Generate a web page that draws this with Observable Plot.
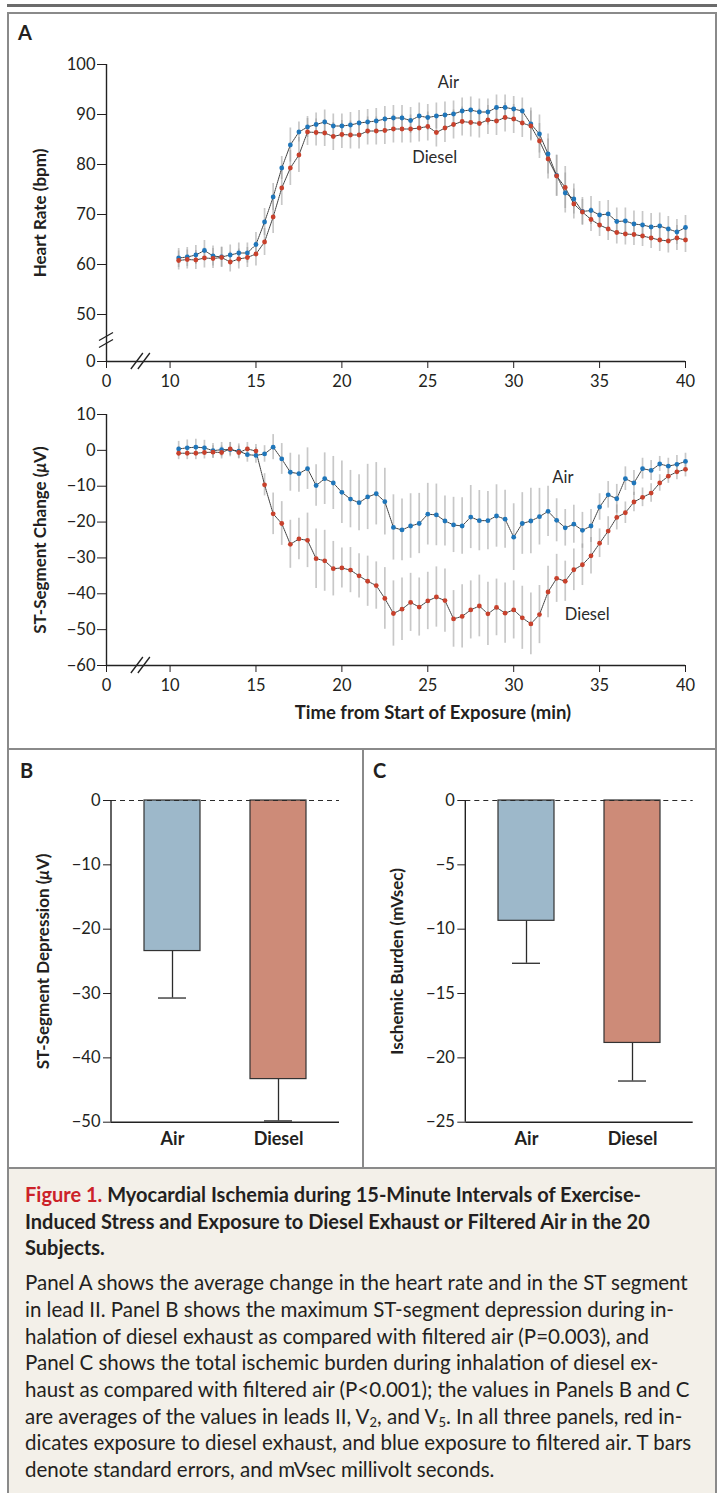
<!DOCTYPE html>
<html><head><meta charset="utf-8">
<script src="https://cdn.jsdelivr.net/npm/d3@7"></script>
<script src="https://cdn.jsdelivr.net/npm/@observablehq/plot@0.6"></script>
<style>
body{margin:0;background:#fff;}
#page{position:relative;width:720px;height:1493px;overflow:hidden;font-family:Lato,"Open Sans",sans-serif;color:#231f20;background:#fff;}
.abs{position:absolute;box-sizing:border-box;}
.letter{font-weight:700;line-height:1;font-size:20px;}
.head{font-weight:700;font-size:20px;line-height:26.7px;white-space:nowrap;}
.body{font-size:20.5px;line-height:26.7px;white-space:nowrap;margin-top:8px;}
.sub{font-size:13px;vertical-align:-3px;line-height:0;}
svg{display:block;}
</style></head><body>
<div id="page">
  <div class="abs" style="left:7px;top:4px;width:710px;height:3px;background:#6b6b6b"></div>
  <div class="abs" style="left:7px;top:12px;width:710px;height:738px;border:2px solid #8a8a8a"></div>
  <div class="abs" style="left:7px;top:748px;width:710px;height:421px;border:2px solid #8a8a8a"></div>
  <div class="abs" style="left:362px;top:748px;width:2px;height:421px;background:#8a8a8a"></div>
  <div class="abs" style="left:7px;top:1167px;width:710px;height:340px;border:2px solid #8a8a8a;background:#f3f0e9"></div>
  <div class="abs letter" style="left:18px;top:22px">A</div>
  <div class="abs letter" style="left:20px;top:760px">B</div>
  <div class="abs letter" style="left:373px;top:760px">C</div>
  <div id="a1" class="abs" style="left:0;top:40px"></div>
  <div id="a2" class="abs" style="left:0;top:395px"></div>
  <div id="b" class="abs" style="left:0;top:780px"></div>
  <div id="c" class="abs" style="left:363px;top:780px"></div>
  <div class="abs" style="left:25px;top:1181px;width:690px">
    <div class="head"><span style="color:#cc2229">Figure 1.</span> Myocardial Ischemia during 15-Minute Intervals of Exercise-<br>Induced Stress and Exposure to Diesel Exhaust or Filtered Air in the 20<br>Subjects.</div>
    <div class="body">Panel A shows the average change in the heart rate and in the ST segment<br>in lead II. Panel B shows the maximum ST-segment depression during in-<br>halation of diesel exhaust as compared with filtered air (P=0.003), and<br>Panel C shows the total ischemic burden during inhalation of diesel ex-<br>haust as compared with filtered air (P&lt;0.001); the values in Panels B and C<br>are averages of the values in leads II, V<span class="sub">2</span>, and V<span class="sub">5</span>. In all three panels, red in-<br>dicates exposure to diesel exhaust, and blue exposure to filtered air. T bars<br>denote standard errors, and mVsec millivolt seconds.</div>
  </div>
</div>
<script>
// ---------- data ----------
const times = [10.5,11,11.5,12,12.5,13,13.5,14,14.5,15,
  15.5,16,16.5,17,17.5,18,18.5,19,19.5,20,
  20.5,21,21.5,22,22.5,23,23.5,24,24.5,25,
  25.5,26,26.5,27,27.5,28,28.5,29,29.5,30,
  30.5,31,31.5,32,32.5,33,33.5,34,34.5,35,
  35.5,36,36.5,37,37.5,38,38.5,39,39.5,40];

const hrAir = [61.3,61.5,61.9,62.8,61.7,61.5,61.9,62.3,62.3,64.0,
  68.5,73.5,79.3,83.9,86.5,87.5,88.0,88.5,87.7,87.7,
  87.9,88.3,88.5,88.7,89.1,89.3,89.3,88.8,89.7,89.4,
  89.7,89.9,90.1,90.7,90.9,90.5,90.5,91.4,91.4,91.1,
  90.7,88.1,86.1,82.1,77.8,74.3,73.1,70.6,70.8,69.9,
  70.1,68.6,68.7,68.1,67.9,67.5,67.7,67.1,66.5,67.4];
const hrDiesel = [60.8,61.0,60.9,61.3,61.2,61.4,60.5,61.1,61.4,62.1,
  64.5,69.5,75.3,79.3,81.9,86.5,86.4,86.3,85.6,86.0,
  85.9,85.9,86.7,86.7,86.8,87.1,87.1,87.1,87.3,87.6,
  86.4,87.3,88.0,88.6,88.4,88.2,88.9,88.7,89.4,89.1,
  88.3,87.7,84.7,81.1,77.7,75.4,72.1,70.5,69.0,67.9,
  67.1,66.4,66.1,66.0,65.7,65.3,64.9,64.7,65.3,64.9];
const hrAirSE = [1.9,1.9,1.9,2.0,2.0,2.0,2.0,2.0,2.0,2.4,
  2.7,2.7,2.3,3.4,2.0,2.1,2.3,2.4,2.4,2.4,
  2.5,2.5,2.5,2.5,2.5,2.5,2.5,2.6,2.6,2.6,
  2.6,2.6,2.6,2.6,2.6,2.6,2.6,2.5,2.5,2.5,
  2.6,3.2,3.8,4.0,4.1,4.0,3.0,2.8,2.8,2.7,
  2.7,2.7,2.6,2.6,2.7,2.7,2.6,2.5,2.5,2.4];
const hrDieselSE = [1.9,1.9,1.9,2.0,2.0,2.0,2.0,2.0,2.0,2.4,
  2.7,3.3,3.5,3.5,3.5,2.7,2.7,2.7,2.8,2.8,
  2.8,2.8,2.8,2.8,2.8,2.8,2.8,2.8,2.8,2.9,
  2.9,2.9,2.9,2.9,2.9,2.9,2.9,2.9,2.9,2.9,
  2.9,3.0,3.5,4.0,4.1,4.2,3.0,2.5,2.4,2.3,
  2.3,2.3,2.2,2.2,2.1,2.1,2.3,2.4,2.5,2.5];

const stAir = [0.4,0.7,0.9,0.7,-0.1,0.2,0.2,-0.2,-1.2,-1.4,
  -1.0,0.9,-2.4,-6.1,-6.5,-5.1,-9.8,-7.9,-9.1,-11.7,
  -13.6,-14.6,-13.0,-12.1,-14.3,-21.5,-22.2,-21.1,-20.4,-17.8,
  -18.0,-19.7,-20.8,-21.1,-18.6,-19.6,-19.6,-18.3,-19.2,-24.2,
  -20.4,-19.7,-18.5,-17.0,-19.5,-21.6,-20.6,-22.3,-21.1,-15.8,
  -12.4,-13.5,-7.9,-9.1,-5.1,-5.6,-3.8,-4.4,-3.9,-3.1];
const stDiesel = [-0.8,-0.8,-0.8,-0.6,-0.5,-0.6,0.4,-0.6,0.4,-0.2,
  -9.6,-17.7,-20.4,-26.2,-24.7,-25.1,-30.2,-30.8,-33.0,-32.8,
  -33.4,-35.0,-36.5,-37.7,-41.3,-45.5,-44.3,-42.4,-43.7,-42.0,
  -40.9,-41.9,-47.0,-46.3,-44.5,-43.4,-45.6,-43.8,-45.4,-44.5,
  -46.7,-48.4,-45.8,-39.5,-35.7,-36.5,-33.3,-31.9,-29.4,-25.9,
  -22.5,-18.7,-17.4,-14.4,-13.1,-11.9,-9.1,-7.2,-6.0,-5.3];
const stAirSE = [2.1,2.2,2.2,2.1,2.0,2.0,2.0,2.0,2.1,2.2,
  2.3,3.5,4.3,5.3,5.2,5.8,5.8,7.2,7.4,8.7,
  8.0,7.8,9.1,8.7,9.3,9.1,8.6,9.0,8.4,8.6,
  8.6,7.0,7.7,7.9,8.8,8.4,8.1,8.7,8.1,9.3,
  8.6,9.1,7.9,7.0,6.0,5.1,5.3,5.0,4.6,3.7,
  3.7,4.0,3.3,3.5,2.9,2.8,2.1,2.2,2.5,2.3];
const stDieselSE = [1.8,1.8,1.8,1.8,1.8,1.8,1.8,1.8,1.8,1.8,
  3.1,5.8,6.1,6.7,5.8,7.6,8.3,8.5,7.6,5.6,
  6.3,6.2,7.0,6.6,8.6,9.1,8.7,8.1,8.1,8.0,
  8.4,8.8,7.9,8.8,8.1,8.6,8.8,7.9,8.4,8.1,
  8.8,8.6,8.1,7.2,6.7,5.6,5.8,5.8,5.1,4.0,
  4.0,3.5,3.0,2.7,2.6,2.6,2.3,2.0,2.2,2.1];

const groups = ["Air", "Diesel"];
const stDepression = [-23.4, -43.3];
const stDepressionSE = [7.3, 6.5];
const ischemicBurden = [-9.35, -18.84];
const ischemicBurdenSE = [3.3, 2.96];

// broken axes: the "0" origin tick sits on a compressed stretch of each axis
const xOriginAt = 6.3;       // where the x "0" tick is drawn (axis broken between 0 and 10)
const xBreakAt = 8.3;        // position of the x break slashes
const hrOriginAt = 40.6;     // where the heart-rate "0" tick is drawn (axis broken between 0 and 50)
const hrBreakAt = 44.8;      // position of the y break slashes
const xTicks = [xOriginAt,10,15,20,25,30,35,40];
const hrTicks = [hrOriginAt,50,60,70,80,90,100];
const stTicks = [10,0,-10,-20,-30,-40,-50,-60];
const bTicks = [0,-10,-20,-30,-40,-50];
const cTicks = [0,-5,-10,-15,-20,-25];

const hrLabels = [{t:26.2, v:96.4, text:"Air"}, {t:25.4, v:81.3, text:"Diesel"}];
const stLabels = [{t:32.86, v:-7.6, text:"Air"}, {t:34.28, v:-45.8, text:"Diesel"}];

// ---------- helpers ----------
const NS = "http://www.w3.org/2000/svg";
const blue = "#1f76ba", red = "#c8412c";
const minus = d => d < 0 ? "\u2212" + Math.abs(d) : String(d);
const baseStyle = {fontFamily: "Lato, 'Open Sans', sans-serif", fontSize: "16.5px", color: "#231f20", background: "transparent", overflow: "visible"};

function rows(a, b, sa, sb) {
  return times.flatMap((t, i) => [
    {t, v: a[i], se: sa[i], s: "Air"},
    {t, v: b[i], se: sb[i], s: "Diesel"}
  ]);
}
function line(x1, y1, x2, y2, w) {
  const l = document.createElementNS(NS, "line");
  l.setAttribute("x1", x1); l.setAttribute("y1", y1);
  l.setAttribute("x2", x2); l.setAttribute("y2", y2);
  l.setAttribute("stroke", "#222"); l.setAttribute("stroke-width", w || 1.3);
  return l;
}
// axis-break slashes placed through the library's scales
function breaks(yBase, yBreak) {
  return (index, scales) => {
    const g = document.createElementNS(NS, "g");
    const cx = scales.x(xBreakAt), cy = scales.y(yBase);
    for (const o of [-3.5, 3.5]) g.appendChild(line(cx + o - 6, cy + 8, cx + o + 6, cy - 8));
    if (yBreak != null) {
      const bx = scales.x(xOriginAt), by = scales.y(yBreak);
      for (const o of [-3.5, 3.5]) g.appendChild(line(bx - 7, by + 4 + o, bx + 7, by - 4 + o));
    }
    return g;
  };
}
function italicMu(svg) {
  svg.querySelectorAll("text").forEach(t => {
    if (t.children.length === 0 && t.textContent.includes("\u03bc")) {
      const parts = t.textContent.split("\u03bc");
      t.textContent = "";
      parts.forEach((p, i) => {
        if (i > 0) {
          const ts = document.createElementNS(NS, "tspan");
          ts.setAttribute("font-style", "italic");
          ts.textContent = "\u03bc";
          t.appendChild(ts);
        }
        t.appendChild(document.createTextNode(p));
      });
    }
  });
  return svg;
}

function timeChart({data, yDomain, height, marginTop, marginBottom, yTicks, yFormat, title, labels, yBreak, xTitle}) {
  const marks = [
    Plot.ruleX(data, {x: "t", y1: d => d.v - d.se, y2: d => d.v + d.se, stroke: "#9a9a9a", strokeOpacity: 0.55, strokeWidth: 1.7}),
    Plot.line(data, {x: "t", y: "v", z: "s", stroke: "#2b2b2b", strokeWidth: 0.9, strokeDasharray: "1.3 0.9"}),
    Plot.dot(data, {x: "t", y: "v", fill: "s", r: 2.4}),
    Plot.ruleX([xOriginAt], {y1: yDomain[0], y2: yDomain[1], stroke: "#222", strokeWidth: 1.4}),
    Plot.ruleY([yDomain[0]], {x1: xOriginAt, x2: 40, stroke: "#222", strokeWidth: 1.4}),
    breaks(yDomain[0], yBreak),
    Plot.text(labels, {x: "t", y: "v", text: "text", fontSize: 16.5, fill: "#2a2a2a"}),
    Plot.text([title], {frameAnchor: "left", textAnchor: "middle", dx: -66, rotate: -90, fontWeight: "bold", fontSize: 17, fill: "#231f20"})
  ];
  if (xTitle) marks.push(Plot.text([xTitle], {x: 25.3, frameAnchor: "bottom", dy: 53, fontWeight: "bold", fontSize: 18.5, fill: "#231f20"}));
  return italicMu(Plot.plot({
    width: 720, height, marginLeft: 106, marginRight: 35, marginTop, marginBottom,
    style: baseStyle,
    x: {domain: [xOriginAt, 40], ticks: xTicks, tickSize: 7, tickPadding: 7, tickFormat: d => d === xOriginAt ? "0" : String(d), label: null},
    y: {domain: yDomain, ticks: yTicks, tickSize: 9, tickPadding: 2, tickFormat: yFormat, label: null},
    color: {domain: groups, range: [blue, red]},
    marks
  }));
}

document.getElementById("a1").appendChild(timeChart({
  data: rows(hrAir, hrDiesel, hrAirSE, hrDieselSE),
  yDomain: [hrOriginAt, 100], height: 355, marginTop: 24, marginBottom: 34,
  yTicks: hrTicks, yFormat: d => d === hrOriginAt ? "0" : String(d),
  title: "Heart Rate (bpm)", labels: hrLabels, yBreak: hrBreakAt
}));
document.getElementById("a2").appendChild(timeChart({
  data: rows(stAir, stDiesel, stAirSE, stDieselSE),
  yDomain: [-60, 10], height: 345, marginTop: 19, marginBottom: 75,
  yTicks: stTicks, yFormat: minus, title: "ST-Segment Change (\u03bcV)", labels: stLabels, yBreak: null,
  xTitle: "Time from Start of Exposure (min)"
}));

function barChart({values, ses, width, marginLeft, marginRight, yMin, ticks, title, titleDx}) {
  const data = groups.map((g, i) => ({s: g, v: values[i], se: ses[i]}));
  const yAxisLine = (index, scales, vals, dims) => line(dims.marginLeft, scales.y(0), dims.marginLeft, scales.y(yMin), 1.4);
  return italicMu(Plot.plot({
    width, height: 380, marginLeft, marginRight, marginTop: 20, marginBottom: 38.3,
    style: baseStyle,
    x: {domain: groups, paddingInner: 0.47, paddingOuter: 0.305, label: null},
    y: {domain: [yMin, 0], ticks, tickSize: 8, tickPadding: 3, tickFormat: minus, label: null},
    color: {domain: groups, range: ["#9db8ca", "#cd8b78"]},
    marks: [
      Plot.ruleX(data, {x: "s", y1: "v", y2: d => d.v - d.se, stroke: "#2b2b2b", strokeWidth: 1.3}),
      Plot.tickY(data, {x: "s", y: d => d.v - d.se, insetLeft: 14, insetRight: 14, stroke: "#2b2b2b", strokeWidth: 1.3}),
      Plot.barY(data, {x: "s", y1: 0, y2: "v", fill: "s", stroke: "#333", strokeWidth: 1.2}),
      Plot.ruleY([0], {stroke: "#2b2b2b", strokeWidth: 1.2, strokeDasharray: "5 4"}),
      Plot.ruleY([yMin], {stroke: "#222", strokeWidth: 1.4}),
      yAxisLine,
      Plot.axisX({tickSize: 0, tickPadding: 10, fontWeight: "bold", fontSize: 18, label: null}),
      Plot.axisY({ticks, tickSize: 8, tickPadding: 3, tickFormat: minus, label: null}),
      Plot.text([title], {frameAnchor: "left", textAnchor: "middle", dx: titleDx, rotate: -90, fontWeight: "bold", fontSize: 17, fill: "#231f20"})
    ]
  }));
}

document.getElementById("b").appendChild(barChart({
  values: stDepression, ses: stDepressionSE, width: 362, marginLeft: 111, marginRight: 23,
  yMin: -50, ticks: bTicks, title: "ST-Segment Depression (\u03bcV)", titleDx: -67.7
}));
document.getElementById("c").appendChild(barChart({
  values: ischemicBurden, ses: ischemicBurdenSE, width: 355, marginLeft: 102.3, marginRight: 25.3,
  yMin: -25, ticks: cTicks, title: "Ischemic Burden (mVsec)", titleDx: -68.6
}));
</script>
</body></html>
